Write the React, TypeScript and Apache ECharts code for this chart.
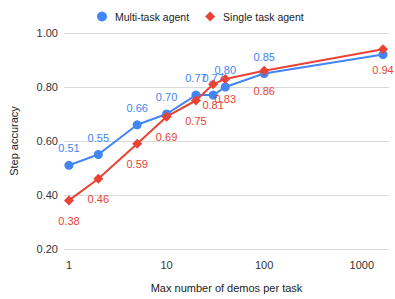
import React, { useEffect, useRef } from "react";
import * as echarts from "echarts";

const demos = [1, 2, 5, 10, 20, 30, 40, 100, 1650];
const multiTask = [0.51, 0.55, 0.66, 0.70, 0.77, 0.77, 0.80, 0.85, 0.92];
const singleTask = [0.38, 0.46, 0.59, 0.69, 0.75, 0.81, 0.83, 0.86, 0.94];
const yTicks = [0.2, 0.4, 0.6, 0.8, 1.0];

const BLUE = "#4285F4";
const RED = "#EA4335";
const FONT = "'Liberation Sans', Arial, sans-serif";

export default function App() {
  const ref = useRef<HTMLDivElement>(null);
  useEffect(() => {
    if (!ref.current) return;
    const chart = echarts.init(ref.current, undefined, { renderer: "svg" });
    chart.setOption({
      animation: false,
      textStyle: { fontFamily: FONT },
      legend: {
        top: 6,
        left: 92,
        itemGap: 16,
        itemWidth: 10,
        itemHeight: 10,
        textStyle: { fontSize: 10.5, color: "#222", fontFamily: FONT, padding: [0, 0, 0, 3] },
        data: [
          { name: "Multi-task agent", icon: "circle" },
          { name: "Single task agent", icon: "diamond" },
        ],
      },
      grid: { left: 56, right: 6, top: 33, bottom: 50, containLabel: false },
      xAxis: {
        type: "log",
        logBase: 10,
        min: 0.89,
        max: 1900,
        name: "Max number of demos per task",
        nameLocation: "middle",
        nameGap: 33,
        nameTextStyle: { fontSize: 11, color: "#222", fontFamily: FONT },
        axisLine: { show: false },
        axisTick: { show: false },
        splitLine: { show: false },
        axisLabel: {
          fontSize: 11,
          color: "#333",
          margin: 10,
          showMinLabel: false,
          showMaxLabel: false,
          formatter: (v: number) => {
            const l = Math.log10(v);
            return Math.abs(l - Math.round(l)) < 1e-6 ? String(Math.round(v)) : "";
          },
        },
      },
      yAxis: {
        type: "value",
        min: yTicks[0],
        max: yTicks[yTicks.length - 1],
        interval: 0.2,
        name: "Step accuracy",
        nameLocation: "middle",
        nameGap: 45,
        nameTextStyle: { fontSize: 11, color: "#222", fontFamily: FONT },
        axisLine: { show: false },
        axisTick: { show: false },
        axisLabel: {
          fontSize: 11,
          color: "#333",
          margin: 6,
          formatter: (v: number) => v.toFixed(2),
        },
        splitLine: { lineStyle: { color: "#d9d9d9", width: 1 } },
      },
      series: [
        {
          name: "Multi-task agent",
          type: "line",
          data: demos.map((d, i) => [d, multiTask[i]]),
          symbol: "circle",
          symbolSize: 9,
          lineStyle: { color: BLUE, width: 2 },
          itemStyle: { color: BLUE },
          label: {
            show: true,
            position: "top",
            distance: 7,
            color: BLUE,
            fontSize: 11,
            fontFamily: FONT,
            formatter: (p: any) =>
              p.dataIndex === demos.length - 1 ? "" : p.value[1].toFixed(2),
          },
          z: 2,
        },
        {
          name: "Single task agent",
          type: "line",
          data: demos.map((d, i) => [d, singleTask[i]]),
          symbol: "diamond",
          symbolSize: 10,
          lineStyle: { color: RED, width: 2 },
          itemStyle: { color: RED },
          label: {
            show: true,
            position: "bottom",
            distance: 10,
            color: RED,
            fontSize: 11,
            fontFamily: FONT,
            formatter: (p: any) => p.value[1].toFixed(2),
          },
          z: 3,
        },
      ],
    });
    return () => chart.dispose();
  }, []);
  return (
    <div
      ref={ref}
      style={{ position: "absolute", left: 0, top: 0, width: 395, height: 299 }}
    />
  );
}
